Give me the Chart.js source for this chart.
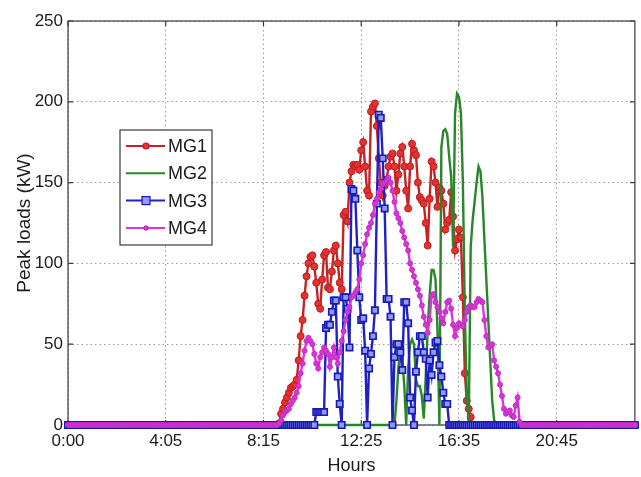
<!DOCTYPE html>
<html>
<head>
<meta charset="utf-8">
<script src="https://cdn.jsdelivr.net/npm/chart.js@4.4.1/dist/chart.umd.min.js"></script>
<style>
  body { margin: 0; background: #fff; }
  #wrap { width: 641px; height: 477px; }
</style>
</head>
<body>
<div id="wrap"><canvas id="mycanvas" width="641" height="477"></canvas></div>
<script>
// sample index = 5 minute steps from 0:00
var xTickPos = [0, 50, 100, 150, 200, 250];
var xTickLabels = ['0:00', '4:05', '8:15', '12:25', '16:35', '20:45'];
var yTicks = [0, 50, 100, 150, 200, 250];
var seriesNames = ['MG1', 'MG2', 'MG3', 'MG4'];

var mg1 = [
  0,0,0,0,0,0,0,0,0,0,0,0,0,0,0,0,0,0,0,0,
  0,0,0,0,0,0,0,0,0,0,0,0,0,0,0,0,0,0,0,0,
  0,0,0,0,0,0,0,0,0,0,0,0,0,0,0,0,0,0,0,0,
  0,0,0,0,0,0,0,0,0,0,0,0,0,0,0,0,0,0,0,0,
  0,0,0,0,0,0,0,0,0,0,0,0,0,0,0,0,0,0,0,0,
  0,0,0,0,0,0,0,0,
  1,7,10,14,17,20,23,24,25,28,
  40,55,65,80,92,100,104,105,98,88,
  75,72,90,105,107,85,84,95,108,111,
  100,88,84,130,132,126,150,157,161,160,
  161,158,170,175,160,145,142,194,197,199,
  185,165,150,142,148,152,160,166,168,160,
  145,155,168,172,160,145,134,160,174,170,
  167,150,141,139,137,125,111,140,163,160,
  150,135,147,145,137,121,125,127,144,129,
  108,115,121,116,79,32,15,10,5,
  0,0,0,0,0,0,0,0,0,0,0,0,0,0,0,0,0,0,0,0,
  0,0,0,0,0,0,0,0,0,0,0,0,0,0,0,0,0,0,0,0,
  0,0,0,0,0,0,0,0,0,0,0,0,0,0,0,0,0,0,0,0,
  0,0,0,0,0,0,0,0,0,0,0,0,0,0,0,0,0,0,0,0,
  0,0,0,0
];

var mg2 = [
  0,0,0,0,0,0,0,0,0,0,0,0,0,0,0,0,0,0,0,0,
  0,0,0,0,0,0,0,0,0,0,0,0,0,0,0,0,0,0,0,0,
  0,0,0,0,0,0,0,0,0,0,0,0,0,0,0,0,0,0,0,0,
  0,0,0,0,0,0,0,0,0,0,0,0,0,0,0,0,0,0,0,0,
  0,0,0,0,0,0,0,0,0,0,0,0,0,0,0,0,0,0,0,0,
  0,0,0,0,0,0,0,0,0,0,0,0,0,0,0,0,0,0,0,0,
  0,0,0,0,0,0,0,0,0,0,0,0,0,0,0,0,0,0,0,0,
  0,0,0,0,0,0,0,0,0,0,0,0,0,0,0,0,0,0,0,0,
  0,0,0,0,0,0,0,0,
  15,35,47,40,25,0,35,50,53,50,
  28,24,24,18,4,30,60,80,96,96,
  90,59,0,172,182,183,180,166,154,110,
  193,205,203,193,150,69,20,0,110,127,
  138,150,160,157,141,115,90,65,40,15,
  3,
  0,0,0,0,0,0,0,0,0,0,0,0,0,0,0,0,0,0,0,0,
  0,0,0,0,0,0,0,0,0,0,0,0,0,0,0,0,0,0,0,0,
  0,0,0,0,0,0,0,0,0,0,0,0,0,0,0,0,0,0,0,0,
  0,0,0,0,0,0,0,0,0,0,0,0
];

var mg3 = [
  0,0,0,0,0,0,0,0,0,0,0,0,0,0,0,0,0,0,0,0,
  0,0,0,0,0,0,0,0,0,0,0,0,0,0,0,0,0,0,0,0,
  0,0,0,0,0,0,0,0,0,0,0,0,0,0,0,0,0,0,0,0,
  0,0,0,0,0,0,0,0,0,0,0,0,0,0,0,0,0,0,0,0,
  0,0,0,0,0,0,0,0,0,0,0,0,0,0,0,0,0,0,0,0,
  0,0,0,0,0,0,0,0,0,0,0,0,0,0,0,0,0,0,0,0,
  0,0,0,0,0,0,0,
  8,8,8,8,8,60,62,62,70,77,
  77,30,13,0,79,79,72,48,146,145,
  140,108,79,65,66,46,0,35,44,55,
  71,137,192,190,165,134,78,78,67,0,
  42,50,50,45,34,76,76,63,17,9,
  0,33,45,55,55,45,41,17,40,31,
  45,51,52,37,30,20,13,13,
  0,0,0,0,0,0,0,0,0,0,0,0,0,0,0,0,0,0,0,0,
  0,0,0,0,0,0,0,0,0,0,0,0,0,0,0,0,0,0,0,0,
  0,0,0,0,0,0,0,0,0,0,0,0,0,0,0,0,0,0,0,0,
  0,0,0,0,0,0,0,0,0,0,0,0,0,0,0,0,0,0,0,0,
  0,0,0,0,0,0,0,0,0,0,0,0,0,0,0,0
];

var mg4 = [
  0,0,0,0,0,0,0,0,0,0,0,0,0,0,0,0,0,0,0,0,
  0,0,0,0,0,0,0,0,0,0,0,0,0,0,0,0,0,0,0,0,
  0,0,0,0,0,0,0,0,0,0,0,0,0,0,0,0,0,0,0,0,
  0,0,0,0,0,0,0,0,0,0,0,0,0,0,0,0,0,0,0,0,
  0,0,0,0,0,0,0,0,0,0,0,0,0,0,0,0,0,0,0,0,
  0,0,0,0,0,0,0,0,
  1,3,6,8,9,10,13,15,17,20,
  24,32,38,46,52,54,52,50,44,38,
  35,42,45,48,46,44,36,42,48,42,
  38,45,52,58,65,70,73,79,80,82,
  84,90,100,105,112,118,122,125,130,137,
  140,144,146,149,150,151,153,150,145,138,
  131,128,125,120,116,112,108,100,96,92,
  88,84,80,74,67,62,57,65,80,81,
  76,73,70,66,63,70,76,77,72,62,
  55,60,63,62,61,65,70,73,74,73,
  73,76,78,77,76,65,55,48,49,50,
  40,36,32,25,18,10,7,8,9,6,
  5,12,17,2,
  0,0,0,0,0,0,0,0,0,0,0,0,0,0,0,0,0,0,0,0,
  0,0,0,0,0,0,0,0,0,0,0,0,0,0,0,0,0,0,0,0,
  0,0,0,0,0,0,0,0,0,0,0,0,0,0,0,0,0,0,0
];

var fontName = "'Liberation Sans', Arial, sans-serif";
var textColor = '#1a1a1a';

function toPoints(vals) {
  var pts = [];
  for (var i = 0; i < vals.length; i++) {
    pts.push({ x: i, y: vals[i] });
  }
  return pts;
}

// box round the plot with small inside ticks, like the original
var boxPlugin = {
  id: 'box',
  beforeDatasetsDraw: function(chart) {
    var a = chart.chartArea, ctx = chart.ctx;
    var xs = chart.scales.x, ys = chart.scales.y;
    ctx.save();
    ctx.strokeStyle = '#3a3a3a';
    ctx.lineWidth = 1.2;
    ctx.strokeRect(a.left, a.top, a.right - a.left, a.bottom - a.top);
    ctx.beginPath();
    xTickPos.forEach(function(v) {
      var px = xs.getPixelForValue(v);
      ctx.moveTo(px, a.bottom); ctx.lineTo(px, a.bottom - 5);
      ctx.moveTo(px, a.top); ctx.lineTo(px, a.top + 5);
    });
    yTicks.forEach(function(v) {
      var py = ys.getPixelForValue(v);
      ctx.moveTo(a.left, py); ctx.lineTo(a.left + 5, py);
      ctx.moveTo(a.right, py); ctx.lineTo(a.right - 5, py);
    });
    ctx.stroke();
    ctx.restore();
  }
};

// legend box inside the plot
var legendPlugin = {
  id: 'legendBox',
  afterDatasetsDraw: function(chart) {
    var ctx = chart.ctx;
    var bx = 120, by = 130, bw = 92, bh = 115;
    ctx.save();
    ctx.fillStyle = '#fff';
    ctx.fillRect(bx, by, bw, bh);
    ctx.strokeStyle = '#3a3a3a';
    ctx.lineWidth = 1.2;
    ctx.strokeRect(bx, by, bw, bh);
    chart.data.datasets.forEach(function(ds, i) {
      var y = 146 + i * 27.3;
      ctx.strokeStyle = ds.borderColor;
      ctx.lineWidth = 2;
      ctx.beginPath();
      ctx.moveTo(126, y); ctx.lineTo(165, y);
      ctx.stroke();
      if (ds.pointRadius > 0) {
        ctx.fillStyle = ds.pointBackgroundColor;
        ctx.strokeStyle = ds.pointBorderColor;
        ctx.lineWidth = 1.2;
        var r = ds.pointRadius - 0.5;
        if (ds.pointStyle === 'rect') {
          ctx.fillRect(146 - r, y - r, 2 * r, 2 * r);
          ctx.strokeRect(146 - r, y - r, 2 * r, 2 * r);
        } else {
          ctx.beginPath();
          ctx.arc(146, y, r, 0, Math.PI * 2);
          ctx.fill();
          ctx.stroke();
        }
      }
      ctx.fillStyle = textColor;
      ctx.font = '18px ' + fontName;
      ctx.textBaseline = 'middle';
      ctx.fillText(seriesNames[i], 168, y + 1);
    });
    ctx.restore();
  }
};

var ctx = document.getElementById('mycanvas');
var lineGraph = new Chart(ctx, {
  type: 'line',
  data: {
    datasets: [
      {
        label: seriesNames[0],
        data: toPoints(mg1),
        borderColor: '#c42424',
        borderWidth: 2.4,
        pointRadius: 3.5,
        pointBackgroundColor: '#e83030',
        pointBorderColor: '#b81c1c',
        pointBorderWidth: 1,
        order: 4
      },
      {
        label: seriesNames[1],
        data: toPoints(mg2),
        borderColor: '#2a862a',
        borderWidth: 2.4,
        pointRadius: 0,
        order: 3
      },
      {
        label: seriesNames[2],
        data: toPoints(mg3),
        borderColor: '#2020c4',
        borderWidth: 2.4,
        pointStyle: 'rect',
        pointRadius: 4.5,
        pointBackgroundColor: '#8f9cf0',
        pointBorderColor: '#1818b8',
        pointBorderWidth: 1.6,
        order: 2
      },
      {
        label: seriesNames[3],
        data: toPoints(mg4),
        borderColor: '#d836d8',
        borderWidth: 2.4,
        pointRadius: 2.5,
        pointBackgroundColor: '#d836d8',
        pointBorderColor: '#c02cc0',
        pointBorderWidth: 1,
        order: 1
      }
    ]
  },
  options: {
    responsive: false,
    animation: false,
    devicePixelRatio: 1,
    clip: false,
    layout: { padding: { left: 0, right: 5, top: 21, bottom: 0 } },
    plugins: {
      legend: { display: false },
      tooltip: { enabled: false }
    },
    elements: { line: { tension: 0 } },
    scales: {
      x: {
        type: 'linear',
        min: 0,
        max: 290,
        afterBuildTicks: function(axis) {
          axis.ticks = xTickPos.map(function(v) { return { value: v }; });
        },
        afterFit: function(scale) { scale.height = 52; },
        ticks: {
          padding: 6,
          maxRotation: 0,
          autoSkip: false,
          color: textColor,
          font: { family: fontName, size: 17 },
          callback: function(v) { return xTickLabels[xTickPos.indexOf(v)]; }
        },
        grid: { color: '#9a9a9a', lineWidth: 1, drawTicks: false },
        border: { display: false, dash: [1.5, 3] },
        title: {
          display: true,
          text: 'Hours',
          color: textColor,
          font: { family: fontName, size: 18 },
          padding: { top: 0, bottom: 0 }
        }
      },
      y: {
        min: 0,
        max: 250,
        afterBuildTicks: function(axis) {
          axis.ticks = yTicks.map(function(v) { return { value: v }; });
        },
        afterFit: function(scale) { scale.width = 68; },
        ticks: {
          padding: 5,
          color: textColor,
          font: { family: fontName, size: 17 }
        },
        grid: { color: '#9a9a9a', lineWidth: 1, drawTicks: false },
        border: { display: false, dash: [1.5, 3] },
        title: {
          display: true,
          text: 'Peak loads (kW)',
          color: textColor,
          font: { family: fontName, size: 19 },
          padding: { top: 13, bottom: 0 }
        }
      }
    }
  },
  plugins: [boxPlugin, legendPlugin]
});
</script>
</body>
</html>
